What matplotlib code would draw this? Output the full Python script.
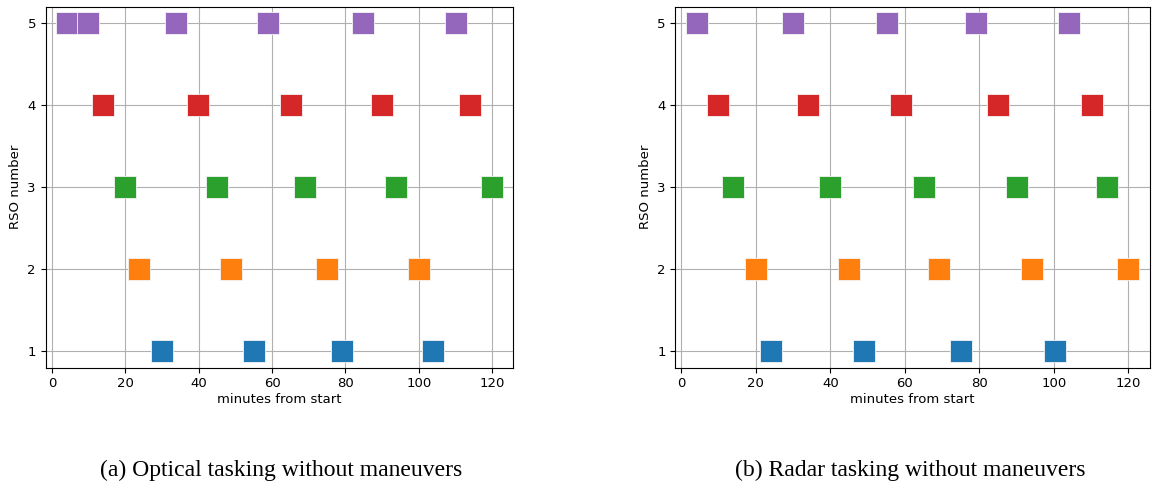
import matplotlib.pyplot as plt

# tasking times (minutes from start) per RSO
optical_rso1 = [30.1, 55.0, 79.0, 104.0]
optical_rso2 = [23.8, 48.9, 75.1, 100.1]
optical_rso3 = [19.9, 45.0, 69.0, 93.9, 119.9]
optical_rso4 = [13.8, 39.9, 65.1, 90.1, 114.0]
optical_rso5 = [4.1, 9.9, 33.8, 58.9, 84.9, 110.2]

radar_rso1 = [24.0, 49.0, 75.2, 100.3]
radar_rso2 = [20.1, 45.1, 69.1, 94.1, 120.0]
radar_rso3 = [14.0, 39.9, 65.2, 90.2, 114.2]
radar_rso4 = [10.0, 34.1, 59.1, 85.0, 110.3]
radar_rso5 = [4.2, 30.1, 55.2, 79.1, 104.1]

rso_numbers = [1, 2, 3, 4, 5]
colors = ["#1f77b4", "#ff7f0e", "#2ca02c", "#d62728", "#9467bd"]

captions = ["(a) Optical tasking without maneuvers", "(b) Radar tasking without maneuvers"]


def draw_schedule(ax, series):
    for rso, times, c in zip(rso_numbers, series, colors):
        ax.plot(times, [rso] * len(times), linestyle="none", marker="s",
                markersize=15.2, color=c, markeredgecolor="#f4f4f4",
                markeredgewidth=0.6, zorder=3)
    ax.set_xticks([0, 20, 40, 60, 80, 100, 120])
    ax.set_yticks(rso_numbers)
    ax.set_xlabel("minutes from start", fontsize=9.5, labelpad=2)
    ax.set_ylabel("RSO number", fontsize=9.5)
    ax.tick_params(labelsize=9.5)
    ax.grid(True)


fig = plt.figure(figsize=(11.53, 4.92), dpi=100)
ax1 = fig.add_axes([45.7 / 1153, 1 - 367.7 / 492, 467.3 / 1153, 361.0 / 492])
ax2 = fig.add_axes([675.3 / 1153, 1 - 367.7 / 492, 474.7 / 1153, 361.0 / 492])

draw_schedule(ax1, [optical_rso1, optical_rso2, optical_rso3, optical_rso4, optical_rso5])
draw_schedule(ax2, [radar_rso1, radar_rso2, radar_rso3, radar_rso4, radar_rso5])

fig.text(281 / 1153, 1 - 470 / 492, captions[0], ha="center", va="center",
         family="Liberation Serif", fontsize=17)
fig.text(910 / 1153, 1 - 470 / 492, captions[1], ha="center", va="center",
         family="Liberation Serif", fontsize=17)

fig.savefig("out.png", dpi=100)
